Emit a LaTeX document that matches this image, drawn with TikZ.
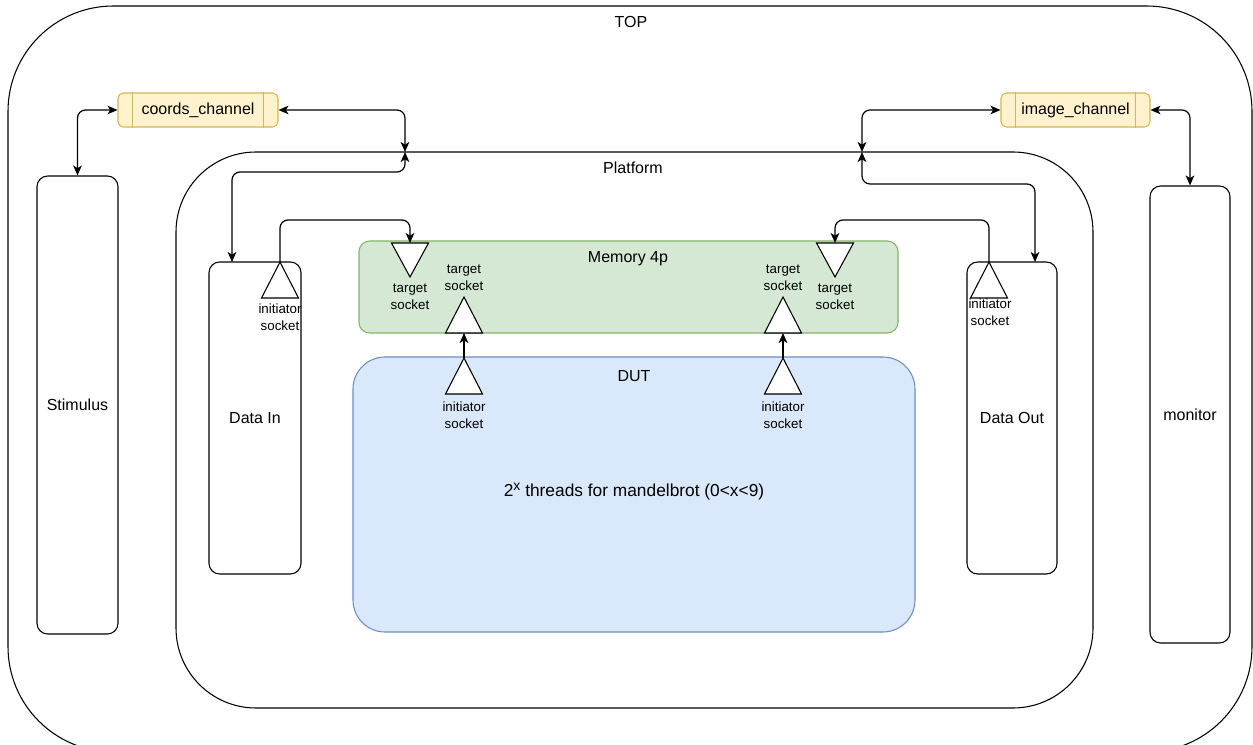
\documentclass[tikz,border=0pt]{standalone}
\usepackage{fontspec}
\setmainfont{Liberation Sans}
\usetikzlibrary{arrows.meta}
\definecolor{yfill}{HTML}{FFF2CC}
\definecolor{ydraw}{HTML}{D6B656}
\definecolor{gfill}{HTML}{D5E8D4}
\definecolor{gdraw}{HTML}{82B366}
\definecolor{bfill}{HTML}{DAE8FC}
\definecolor{bdraw}{HTML}{6C8EBF}
\tikzset{
  box/.style={draw=black, line width=0.8pt, rounded corners=8pt, inner sep=0pt},
  lbl/.style={font=\fontsize{12}{14}\selectfont, inner sep=0pt},
  slbl/.style={font=\fontsize{10}{13}\selectfont, align=center, inner sep=0pt},
  chan/.style={draw=ydraw, fill=yfill, line width=0.8pt, rounded corners=4pt, minimum height=25.5pt, inner sep=0pt, font=\fontsize{12}{14}\selectfont},
  conn/.style={line width=0.9pt, rounded corners=6pt, -{Stealth[length=7.5pt,width=6.5pt,inset=2pt]}},
  biconn/.style={line width=0.9pt, rounded corners=6pt, {Stealth[length=7.5pt,width=6.5pt,inset=2pt]}-{Stealth[length=7.5pt,width=6.5pt,inset=2pt]}},
  upsock/.pic={\draw[line width=0.8pt, fill=white] (-18.5,0) -- (0,-36) -- (18.5,0) -- cycle;},
  downsock/.pic={\draw[line width=0.8pt, fill=white] (-18.5,0) -- (0,34) -- (18.5,0) -- cycle;}
}
\begin{document}
\begin{tikzpicture}[x=0.75pt, y=-0.75pt]
\useasboundingbox (0,0) rectangle (1253,745);
\begin{scope}
\clip (0,0) rectangle (1253,745);
\draw[line width=0.8pt, rounded corners=79pt] (8,6) rectangle (1252,752);
\end{scope}
\node[lbl] (toplbl) at (631,22) {TOP};
% platform
\draw[line width=0.8pt, rounded corners=60pt] (176,152) rectangle (1093,708);
\node[lbl] (platlbl) at (633,168) {Platform};
\coordinate (pTopL) at (405,152);
\coordinate (pTopR) at (862,152);
% boxes
\node[box, minimum width=60.75pt, minimum height=343.5pt] (stim) at (77.5,405) {};
\node[lbl] at (stim) {Stimulus};
\node[box, minimum width=60pt, minimum height=342.75pt] (mon) at (1190,414.5) {};
\node[lbl] at (mon) {monitor};
\node[box, minimum width=69pt, minimum height=234pt] (din) at (255,418) {};
\node[lbl] at (din) {Data In};
\node[box, minimum width=67.5pt, minimum height=234pt] (dout) at (1012,418) {};
\node[lbl] at (dout) {Data Out};
% memory and DUT
\node[draw=gdraw, fill=gfill, line width=0.8pt, rounded corners=8pt, minimum width=404.25pt, minimum height=69pt, inner sep=0pt] (mem) at (628.5,287) {};
\node[lbl] (memlbl) at (628,259) {Memory 4p};
\node[draw=bdraw, fill=bfill, line width=0.8pt, rounded corners=24pt, minimum width=421.5pt, minimum height=206.25pt, inner sep=0pt] (dut) at (634,494.5) {};
\node[lbl] (dutlbl) at (634,376) {DUT};
\node[font=\fontsize{13}{15}\selectfont, inner sep=0pt] (mandel) at (634,492) {2\raisebox{4.5pt}{\fontsize{10.5}{12}\selectfont x} threads for mandelbrot (0<x<9)};
% channels
\node[chan, minimum width=120pt] (coords) at (198,110) {coords\_channel};
\draw[draw=ydraw, line width=0.8pt] ([xshift=11pt]coords.north west) -- ([xshift=11pt]coords.south west)
  ([xshift=-11pt]coords.north east) -- ([xshift=-11pt]coords.south east);
\node[chan, minimum width=111.75pt] (image) at (1075.5,110) {image\_channel};
\draw[draw=ydraw, line width=0.8pt] ([xshift=11pt]image.north west) -- ([xshift=11pt]image.south west)
  ([xshift=-11pt]image.north east) -- ([xshift=-11pt]image.south east);
% sockets
\pic at (280,298) {upsock};
\coordinate (dinSock) at (280,262);
\node[slbl] (dinSockL) at (280,317) {initiator\\socket};
\pic at (410,243) {downsock};
\coordinate (memTL) at (410,243);
\node[slbl] (memTLl) at (410,297) {target\\socket};
\pic at (464,333) {upsock};
\coordinate (memBL) at (464,333);
\node[slbl] (memBLl) at (464,278) {target\\socket};
\pic at (783,333) {upsock};
\coordinate (memBR) at (783,333);
\node[slbl] (memBRl) at (783,278) {target\\socket};
\pic at (835,243) {downsock};
\coordinate (memTR) at (835,243);
\node[slbl] (memTRl) at (835,297) {target\\socket};
\pic at (989,298) {upsock};
\coordinate (doutSock) at (989,262);
\node[slbl] (doutSockL) at (990,312) {initiator\\socket};
\pic at (464,394) {upsock};
\coordinate (dutL) at (464,358);
\node[slbl] (dutLl) at (464,415) {initiator\\socket};
\pic at (783,394) {upsock};
\coordinate (dutR) at (783,358);
\node[slbl] (dutRl) at (783,415) {initiator\\socket};
% connectors
\draw[conn] (dutL) -- (memBL);
\draw[conn] (dutR) -- (memBR);
\draw[conn] (dinSock) -- (280,220) -| (memTL);
\draw[conn] (doutSock) -- (989,220) -| (memTR);
\draw[biconn] (stim.north) |- (coords.west);
\draw[biconn] (coords.east) -| (pTopL);
\draw[biconn] (pTopL) -- (405,172) -| (232,262);
\draw[biconn] (image.west) -| (pTopR);
\draw[biconn] (pTopR) -- (862,184) -| (1035,262);
\draw[biconn] (image.east) -| (mon.north);
\end{tikzpicture}
\end{document}
